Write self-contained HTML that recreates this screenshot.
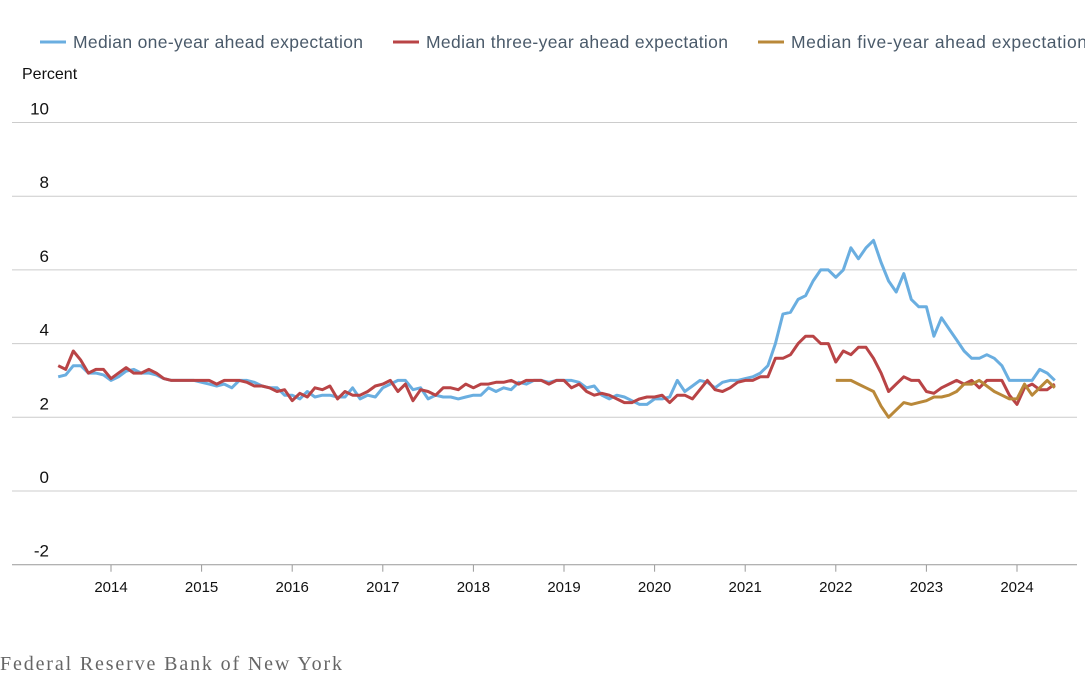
<!DOCTYPE html>
<html><head><meta charset="utf-8"><style>
body{margin:0;background:#fff;width:1085px;height:693px;overflow:hidden;font-family:"Liberation Sans",sans-serif}
svg{position:absolute;left:0;top:0}
</style></head><body>
<svg width="1085" height="693">
<g id="grid"></g><g id="axes"></g><g id="series"></g>
<g font-size="17.5" fill="#4a5a6a">
 <line x1="40" y1="42" x2="66" y2="42" stroke="#6aaee0" stroke-width="3"/><text x="73" y="48" textLength="290">Median one-year ahead expectation</text>
 <line x1="393" y1="42" x2="419" y2="42" stroke="#b94446" stroke-width="3"/><text x="426" y="48" textLength="302">Median three-year ahead expectation</text>
 <line x1="758" y1="42" x2="784" y2="42" stroke="#b98839" stroke-width="3"/><text x="791" y="48" textLength="296">Median five-year ahead expectation</text>
</g>
<text x="22" y="79" font-size="16" fill="#111">Percent</text>
<text x="0" y="670" font-size="20" fill="#666" textLength="342" font-family="Liberation Serif,serif">Federal Reserve Bank of New York</text>
</svg>
<script>
const yTicks=[10,8,6,4,2,0,-2];
const xYears=[2014,2015,2016,2017,2018,2019,2020,2021,2022,2023,2024];
const oneYear=[3.1,3.15,3.4,3.4,3.2,3.2,3.15,
3.0,3.1,3.25,3.3,3.2,3.2,3.15,3.05,3.0,3.0,3.0,3.0,
2.95,2.9,2.85,2.9,2.8,3.0,3.0,2.95,2.85,2.8,2.8,2.6,
2.6,2.5,2.7,2.55,2.6,2.6,2.55,2.55,2.8,2.5,2.6,2.55,
2.8,2.9,3.0,3.0,2.75,2.8,2.5,2.6,2.55,2.55,2.5,2.55,
2.6,2.6,2.8,2.7,2.8,2.75,2.95,2.9,3.0,3.0,2.95,3.0,
3.0,3.0,2.95,2.8,2.85,2.6,2.5,2.6,2.55,2.45,2.35,2.35,
2.5,2.5,2.55,3.0,2.7,2.85,3.0,2.95,2.8,2.95,3.0,3.0,
3.05,3.1,3.2,3.4,4.0,4.8,4.85,5.2,5.3,5.7,6.0,6.0,
5.8,6.0,6.6,6.3,6.6,6.8,6.2,5.7,5.4,5.9,5.2,5.0,
5.0,4.2,4.7,4.4,4.1,3.8,3.6,3.6,3.7,3.6,3.4,3.0,
3.0,3.0,3.0,3.3,3.2,3.0];
const threeYear=[3.4,3.3,3.8,3.55,3.2,3.3,3.3,
3.05,3.2,3.35,3.2,3.2,3.3,3.2,3.05,3.0,3.0,3.0,3.0,
3.0,3.0,2.9,3.0,3.0,3.0,2.95,2.85,2.85,2.8,2.7,2.75,
2.45,2.65,2.55,2.8,2.75,2.85,2.5,2.7,2.6,2.6,2.7,2.85,
2.9,3.0,2.7,2.9,2.45,2.75,2.7,2.6,2.8,2.8,2.75,2.9,
2.8,2.9,2.9,2.95,2.95,3.0,2.9,3.0,3.0,3.0,2.9,3.0,
3.0,2.8,2.9,2.7,2.6,2.65,2.6,2.5,2.4,2.4,2.5,2.55,
2.55,2.6,2.4,2.6,2.6,2.5,2.75,3.0,2.75,2.7,2.8,2.95,
3.0,3.0,3.1,3.1,3.6,3.6,3.7,4.0,4.2,4.2,4.0,4.0,
3.5,3.8,3.7,3.9,3.9,3.6,3.2,2.7,2.9,3.1,3.0,3.0,
2.7,2.65,2.8,2.9,3.0,2.9,3.0,2.8,3.0,3.0,3.0,2.6,
2.35,2.8,2.9,2.75,2.75,2.9];
const fiveYear=[3.0,3.0,3.0,2.9,2.8,2.7,2.3,2.0,2.2,2.4,2.35,2.4,
2.45,2.55,2.55,2.6,2.7,2.9,2.9,3.0,2.85,2.7,2.6,2.5,
2.5,2.9,2.6,2.8,3.0,2.8];
const NS='http://www.w3.org/2000/svg';
function yS(v){return 491-v*36.85;}
function xS(m){return 111+(m-12)*90.6/12;}
function mk(t,a,p){const e=document.createElementNS(NS,t);for(const k in a)e.setAttribute(k,a[k]);p.appendChild(e);return e;}
const grid=document.getElementById('grid'),axes=document.getElementById('axes'),ser=document.getElementById('series');
yTicks.forEach(v=>{
 const l=mk('line',{x1:12,x2:1077,y1:yS(v),y2:yS(v),stroke:v===-2?'#999':'#ccc','stroke-width':1},grid);
 
 
 const t=mk('text',{x:49,y:yS(v)-8,'font-size':17,fill:'#111','text-anchor':'end'},axes);
 t.textContent=v;
 
 
});
xYears.forEach(yr=>{
 const x=xS((yr-2013)*12);
 const l=mk('line',{x1:x,x2:x,y1:yS(-2),y2:yS(-2)+7,stroke:'#999'},axes);
 
 
 const t=mk('text',{x:x,y:592,'font-size':15,fill:'#111','text-anchor':'middle'},axes);
 t.textContent=yr;
 
 
});
function line(arr,start,color,name){
 const pts=arr.map((v,i)=>xS(start+i).toFixed(1)+','+yS(v).toFixed(1)).join(' ');
 const p=mk('polyline',{points:pts,fill:'none',stroke:color,'stroke-width':3,'stroke-linejoin':'round'},ser);
 
 
}
line(oneYear,5,'#6aaee0','one-year-line');
line(threeYear,5,'#b94446','three-year-line');
line(fiveYear,108,'#b98839','five-year-line');
</script>
</body></html>
